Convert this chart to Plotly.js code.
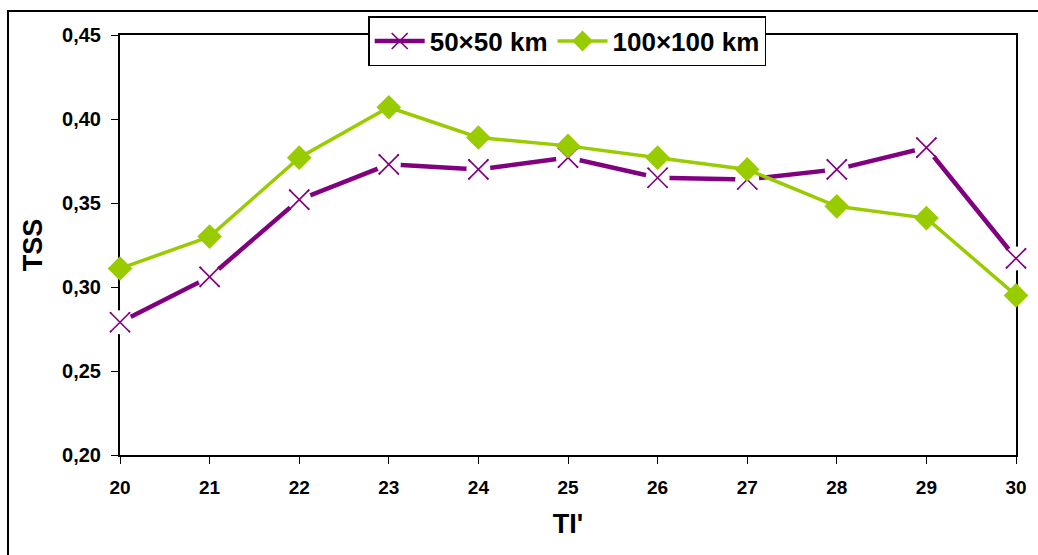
<!DOCTYPE html>
<html>
<head>
<meta charset="utf-8">
<script src="https://cdn.plot.ly/plotly-3.0.1.min.js"></script>
<style>html,body{margin:0;padding:0;background:#fff;}#chart{width:1038px;height:555px;}</style>
</head>
<body>
<div id="chart"></div>
<script>
const tiValues = [20, 21, 22, 23, 24, 25, 26, 27, 28, 29, 30];
const tss50 = [0.279, 0.306, 0.352, 0.373, 0.370, 0.377, 0.365, 0.364, 0.370, 0.383, 0.317];
const tss100 = [0.311, 0.330, 0.377, 0.407, 0.389, 0.384, 0.377, 0.370, 0.348, 0.341, 0.295];
const seriesNames = ['50×50 km', '100×100 km'];
const yTicks = [0.20, 0.25, 0.30, 0.35, 0.40, 0.45];
const xTicks = [20, 21, 22, 23, 24, 25, 26, 27, 28, 29, 30];

const purple = '#800080';
const green = '#99CC00';

const traces = [
  {
    x: tiValues, y: tss50, name: seriesNames[0], mode: 'lines+markers',
    line: {color: purple, width: 4.5},
    marker: {symbol: 'x-thin', size: 20, line: {color: purple, width: 1.6}, color: purple},
    cliponaxis: false
  },
  {
    x: tiValues, y: tss50, mode: 'markers', showlegend: false, hoverinfo: 'skip',
    marker: {symbol: 'circle', size: 24, color: '#ffffff', line: {width: 0}},
    cliponaxis: false
  },
  {
    x: tiValues, y: tss50, mode: 'markers', showlegend: false,
    marker: {symbol: 'x-thin', size: 20, line: {color: purple, width: 1.6}, color: purple},
    cliponaxis: false
  },
  {
    x: tiValues, y: tss100, name: seriesNames[1], mode: 'lines+markers',
    line: {color: green, width: 3.5},
    marker: {symbol: 'diamond', size: 19, color: green, line: {width: 0}},
    cliponaxis: false
  }
];

const fontFam = 'Liberation Sans, Arial, sans-serif';

const layout = {
  width: 1038, height: 555,
  margin: {l: 120, r: 22, t: 35, b: 100},
  paper_bgcolor: '#ffffff', plot_bgcolor: '#ffffff',
  separators: ',.',
  font: {family: fontFam, color: '#000', size: 15},
  showlegend: true,
  legend: {
    orientation: 'h', x: 0.277, y: 1.045, xanchor: 'left', yanchor: 'top',
    bgcolor: '#ffffff', bordercolor: '#000', borderwidth: 1.5,
    font: {family: fontFam, size: 26, color: '#000', weight: 'bold'},
    itemwidth: 50, tracegroupgap: 0
  },
  xaxis: {
    range: [20, 30], tickvals: xTicks, ticktext: xTicks.map(String),
    showgrid: false, zeroline: false,
    showline: true, linecolor: '#000', linewidth: 2, mirror: true,
    ticks: 'outside', ticklen: 7, tickwidth: 1, tickcolor: '#000',
    tickfont: {family: fontFam, size: 19, weight: 'bold'},
    ticklabelstandoff: 7,
    title: {text: "TI'", font: {family: fontFam, size: 27, weight: 'bold'}, standoff: 17},
    layer: 'below traces'
  },
  yaxis: {
    range: [0.20, 0.45], tickvals: yTicks, tickformat: '.2f',
    showgrid: false, zeroline: false,
    showline: true, linecolor: '#000', linewidth: 2, mirror: true,
    ticks: 'outside', ticklen: 7, tickwidth: 1, tickcolor: '#000',
    tickfont: {family: fontFam, size: 20, weight: 'bold'},
    ticklabelstandoff: 6,
    title: {text: 'TSS', font: {family: fontFam, size: 27, weight: 'bold'}, standoff: 12},
    layer: 'below traces'
  },
  shapes: [
    {type: 'rect', xref: 'paper', yref: 'paper', x0: -0.125, x1: 1.2, y0: -0.3, y1: 1.057,
     line: {color: '#000', width: 2}, fillcolor: 'rgba(0,0,0,0)', layer: 'below'}
  ]
};

Plotly.newPlot('chart', traces, layout, {displayModeBar: false, staticPlot: true});
</script>
</body>
</html>
